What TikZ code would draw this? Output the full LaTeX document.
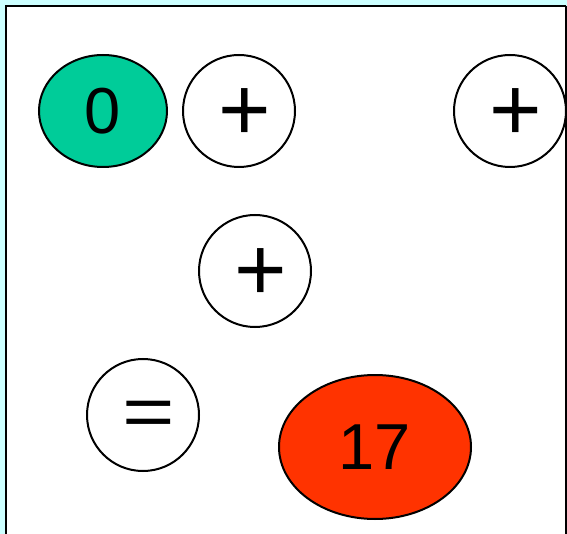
\documentclass[tikz,border=0pt]{standalone}
\usepackage{fontspec}
\setmainfont{Liberation Sans}
\usepackage{xcolor}
\usetikzlibrary{shapes.geometric}

\definecolor{paleCyan}{RGB}{204,255,255}
\definecolor{zeroGreen}{RGB}{0,204,153}
\definecolor{sumRed}{RGB}{255,51,0}

\tikzset{
    numfont/.style={font=\fontsize{65}{65}\selectfont},
    symfont/.style={font=\fontsize{90}{90}\selectfont},
    valblob/.style={ellipse, draw=black, line width=2pt, inner sep=0pt, numfont},
    opcirc/.style={circle, draw=black, line width=2pt, fill=white, inner sep=0pt,
        minimum size=112pt,
        label={[symfont, xshift=6pt, yshift=-3.5pt]center:#1}}
}

\begin{document}
\begin{tikzpicture}[x=1pt, y=-1pt]
        % Page and background
        \useasboundingbox (0,0) rectangle (567,534);
        \fill[paleCyan] (0,0) rectangle (567,534);
        \fill[white] (6,6) rectangle (566,534);

        \begin{scope}
            \clip (6,6) rectangle (566,534);
            % Start value
            \node[valblob, fill=zeroGreen, minimum width=128pt, minimum height=112pt]
                (zero) at (103,111) {0};

            % Operators
            \node[opcirc=+] (plusA) at (239,111) {};
            \node[opcirc=+] (plusB) at (510,111) {};
            \node[opcirc=+] (plusC) at (255,271) {};
            \node[opcirc={\scalebox{1}[0.8]{=}}] (equals) at (143,415) {};

            % Result
            \node[valblob, fill=sumRed, minimum width=192pt, minimum height=144pt]
                (result) at (375,447) {17};
        \end{scope}

        % Frame edges (no bottom edge)
        \draw[line width=2.5pt] (6,534) -- (6,6) -- (566,6);
        \draw[line width=1.2pt] (566,6) -- (566,534);
    \end{tikzpicture}
\end{document}
